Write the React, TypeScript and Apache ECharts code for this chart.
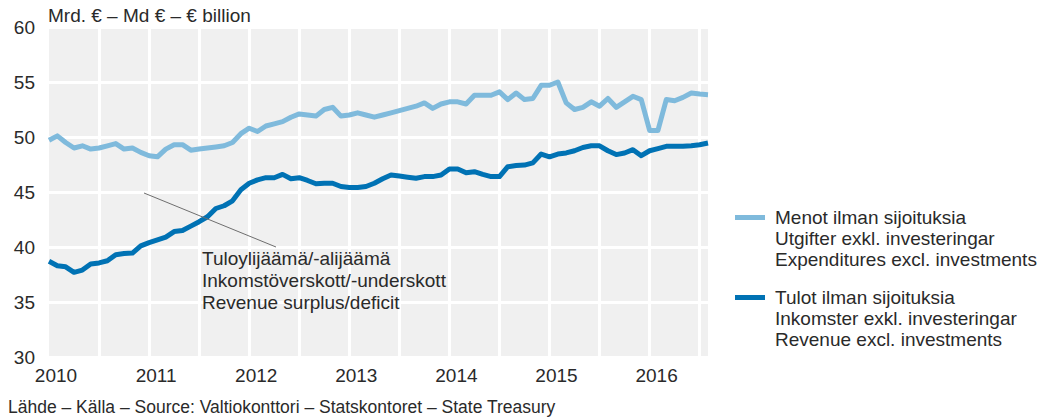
import React, { useEffect, useRef } from "react";
import * as echarts from "echarts";

const years = [2010, 2011, 2012, 2013, 2014, 2015, 2016];
const monthNames = ["01", "02", "03", "04", "05", "06", "07", "08", "09", "10", "11", "12"];
const monthCount = 80; // Jan 2010 – Aug 2016
const categories: string[] = [];
years.forEach((y) => monthNames.forEach((m) => categories.push(`${y}-${m}`)));
categories.length = monthCount;

const expenditures = [
  49.7, 50.1, 49.5, 49.0, 49.2, 48.9, 49.0, 49.2, 49.4, 48.9,
  49.0, 48.6, 48.3, 48.2, 48.9, 49.3, 49.3, 48.8, 48.9, 49.0,
  49.1, 49.2, 49.5, 50.3, 50.8, 50.5, 51.0, 51.2, 51.4, 51.8,
  52.1, 52.0, 51.9, 52.5, 52.7, 51.9, 52.0, 52.2, 52.0, 51.8,
  52.0, 52.2, 52.4, 52.6, 52.8, 53.1, 52.6, 53.0, 53.2, 53.2,
  53.0, 53.8, 53.8, 53.8, 54.1, 53.4, 54.0, 53.4, 53.5, 54.7,
  54.7, 55.0, 53.1, 52.5, 52.7, 53.2, 52.8, 53.5, 52.7, 53.2,
  53.7, 53.4, 50.6, 50.6, 53.4, 53.3, 53.6, 54.0, 53.9, 53.85,
];

const revenue = [
  38.7, 38.3, 38.2, 37.7, 37.9, 38.45, 38.55, 38.75, 39.3, 39.4,
  39.45, 40.1, 40.4, 40.65, 40.9, 41.4, 41.5, 41.9, 42.3, 42.75,
  43.5, 43.75, 44.2, 45.2, 45.8, 46.1, 46.3, 46.3, 46.6, 46.2,
  46.3, 46.05, 45.75, 45.8, 45.8, 45.5, 45.4, 45.4, 45.5, 45.8,
  46.2, 46.55, 46.45, 46.35, 46.25, 46.4, 46.4, 46.55, 47.1, 47.1,
  46.75, 46.85, 46.6, 46.4, 46.4, 47.3, 47.4, 47.45, 47.65, 48.45,
  48.2, 48.45, 48.55, 48.75, 49.05, 49.2, 49.2, 48.75, 48.4, 48.55,
  48.85, 48.3, 48.75, 48.95, 49.15, 49.15, 49.15, 49.2, 49.3, 49.45,
];

const yTicks = { min: 30, max: 60, interval: 5 };

const seriesNames = ["Menot ilman sijoituksia", "Tulot ilman sijoituksia"];
const legendTexts = [
  "Menot ilman sijoituksia\nUtgifter exkl. investeringar\nExpenditures excl. investments",
  "Tulot ilman sijoituksia\nInkomster exkl. investeringar\nRevenue excl. investments",
];
const annotationText = "Tuloylijäämä/-alijäämä\nInkomstöverskott/-underskott\nRevenue surplus/deficit";
const titleText = "Mrd. € – Md € – € billion";
const sourceText = "Lähde – Källa – Source: Valtiokonttori – Statskontoret – State Treasury";

const LIGHT = "#7fbadc";
const DARK = "#0072b4";
const TEXT = "#2a2a2a";
const FONT = "Liberation Sans, Arial, sans-serif";

export default function App() {
  const ref = useRef<HTMLDivElement>(null);

  useEffect(() => {
    document.body.style.margin = "0";
    if (!ref.current) return;
    const chart = echarts.init(ref.current, undefined, { renderer: "svg" });
    chart.setOption({
      animation: false,
      textStyle: { fontFamily: FONT },
      grid: {
        left: 49,
        top: 27,
        width: 659,
        height: 330,
        show: true,
        backgroundColor: "#f0f0f0",
        borderWidth: 0,
      },
      xAxis: {
        type: "category",
        data: categories,
        boundaryGap: false,
        axisLine: { show: false },
        axisTick: { show: false },
        axisLabel: {
          interval: (i: number) => i % 12 === 0,
          formatter: (v: string) => v.slice(0, 4),
          fontSize: 19,
          color: TEXT,
          fontFamily: FONT,
          margin: 9,
          padding: [0, 0, 0, 14],
          hideOverlap: false,
        },
        splitLine: {
          show: true,
          interval: (i: number) => i % 6 === 0 && i > 0,
          lineStyle: { color: "#ffffff", width: 3 },
        },
      },
      yAxis: {
        type: "value",
        min: yTicks.min,
        max: yTicks.max,
        interval: yTicks.interval,
        axisLine: { show: false },
        axisTick: { show: false },
        axisLabel: { fontSize: 19, color: TEXT, fontFamily: FONT, margin: 14 },
        splitLine: {
          show: true,
          lineStyle: { color: "#ffffff", width: 3 },
        },
      },
      series: [
        {
          name: seriesNames[0],
          type: "line",
          data: expenditures,
          symbol: "none",
          lineStyle: { color: LIGHT, width: 5, join: "round" },
          itemStyle: { color: LIGHT },
        },
        {
          name: seriesNames[1],
          type: "line",
          data: revenue,
          symbol: "none",
          lineStyle: { color: DARK, width: 5, join: "round" },
          itemStyle: { color: DARK },
        },
      ],
      graphic: [
        {
          type: "text",
          x: 48,
          y: 15,
          z: 100,
          style: { text: titleText, fontSize: 19, fill: TEXT, fontFamily: FONT, verticalAlign: "middle" },
        },
        {
          type: "line",
          z: 100,
          shape: { x1: 144, y1: 193, x2: 276, y2: 247 },
          style: { stroke: "#6e6e6e", lineWidth: 1 },
        },
        {
          type: "text",
          x: 202,
          y: 247,
          z: 100,
          style: {
            text: annotationText,
            fontSize: 19,
            lineHeight: 22,
            fill: TEXT,
            fontFamily: FONT,
            verticalAlign: "top",
          },
        },
        {
          type: "rect",
          z: 100,
          shape: { x: 735, y: 215, width: 30, height: 5 },
          style: { fill: LIGHT },
        },
        {
          type: "text",
          x: 775,
          y: 206.5,
          z: 100,
          style: {
            text: legendTexts[0],
            fontSize: 19,
            lineHeight: 21,
            fill: TEXT,
            fontFamily: FONT,
            verticalAlign: "top",
          },
        },
        {
          type: "rect",
          z: 100,
          shape: { x: 735, y: 295, width: 30, height: 5 },
          style: { fill: DARK },
        },
        {
          type: "text",
          x: 775,
          y: 286.5,
          z: 100,
          style: {
            text: legendTexts[1],
            fontSize: 19,
            lineHeight: 21,
            fill: TEXT,
            fontFamily: FONT,
            verticalAlign: "top",
          },
        },
        {
          type: "text",
          x: 8,
          y: 407,
          z: 100,
          style: { text: sourceText, fontSize: 17.5, fill: TEXT, fontFamily: FONT, verticalAlign: "middle" },
        },
      ],
    });
    return () => chart.dispose();
  }, []);

  return <div ref={ref} style={{ width: 1061, height: 418 }} />;
}
